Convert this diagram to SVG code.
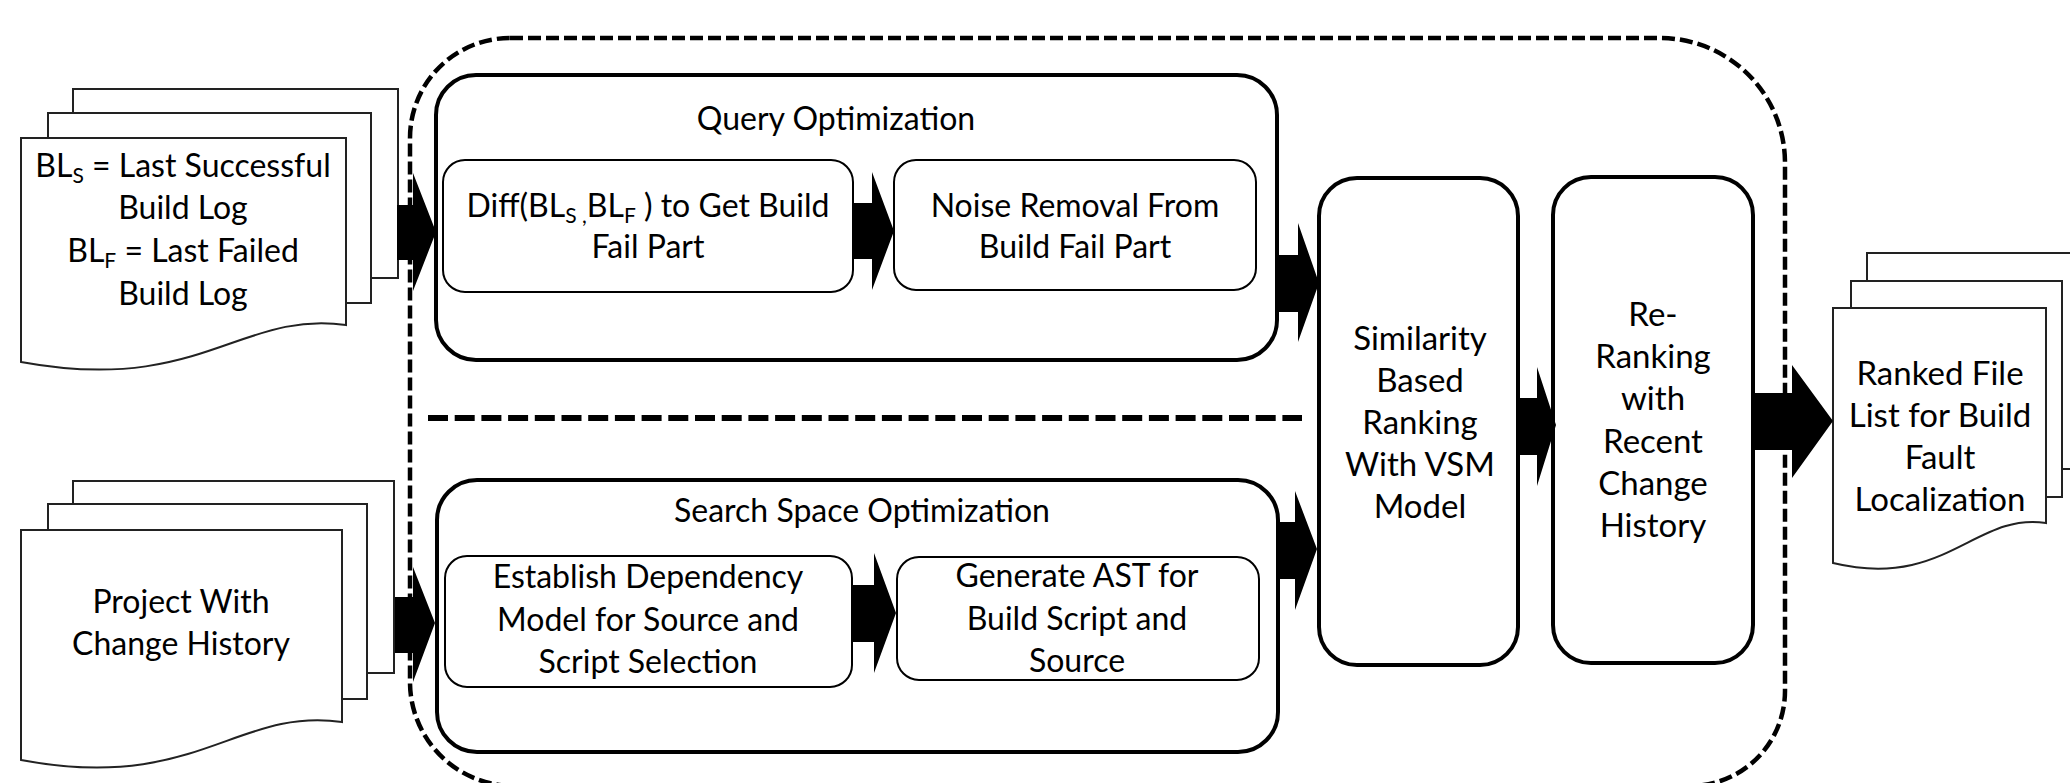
<svg xmlns="http://www.w3.org/2000/svg" width="2070" height="783" viewBox="0 0 2070 783">
<defs>
<style>
.pg{fill:#fff;stroke:#222;stroke-width:2}
.big{fill:#fff;stroke:#000;stroke-width:4}
.inner{fill:#fff;stroke:#000;stroke-width:2}
.t{font-family:Lato,"Open Sans",sans-serif;font-size:32px;fill:#000;text-anchor:middle}
.tl{font-size:33px}
.arrow{fill:#000;stroke:none}
.dash{fill:none;stroke:#000;stroke-width:4.5;stroke-dasharray:13 5}
.sep{fill:none;stroke:#000;stroke-width:6;stroke-dasharray:20 6.7}
</style>
</defs>
<rect width="2070" height="783" fill="#fff"/>

<g id="doc-build-logs">
<rect class="pg" x="73" y="89" width="325" height="189"/>
<rect class="pg" x="48" y="113" width="323" height="190"/>
<path class="pg" d="M21,138 H346 V325 C240,310 200,395 21,362 Z"/>
<text class="t" x="183" y="177">BL<tspan font-size="21" dy="6">S</tspan><tspan dy="-6"> = Last Successful</tspan></text>
<text class="t" x="183" y="219">Build Log</text>
<text class="t" x="183" y="262">BL<tspan font-size="21" dy="6">F</tspan><tspan dy="-6"> = Last Failed</tspan></text>
<text class="t" x="183" y="305">Build Log</text>
</g>

<g id="doc-project">
<rect class="pg" x="73" y="481" width="321" height="192"/>
<rect class="pg" x="48" y="504" width="319" height="195"/>
<path class="pg" d="M21,530 H342 V722 C236,707 196,793 21,760 Z"/>
<text class="t" x="181" y="613">Project With</text>
<text class="t" x="181" y="655">Change History</text>
</g>

<g id="query-optimization">
<rect class="big" x="436" y="75" width="841" height="285" rx="40"/>
<text class="t" x="836" y="130">Query Optimization</text>
</g>
<g id="diff">
<rect class="inner" x="443" y="160" width="410" height="132" rx="22"/>
<text class="t" x="648" y="217">Diff(BL<tspan font-size="21" dy="6">S</tspan><tspan font-size="21"> ,</tspan><tspan dy="-6">BL</tspan><tspan font-size="21" dy="6">F</tspan><tspan dy="-6"> ) to Get Build</tspan></text>
<text class="t" x="648" y="258">Fail Part</text>
</g>
<g id="noise-removal">
<rect class="inner" x="894" y="160" width="362" height="130" rx="22"/>
<text class="t" x="1075" y="217">Noise Removal From</text>
<text class="t" x="1075" y="258">Build Fail Part</text>
</g>

<g id="search-space-optimization">
<rect class="big" x="437" y="480" width="841" height="272" rx="40"/>
<text class="t" x="862" y="522">Search Space Optimization</text>
</g>
<g id="establish-dependency">
<rect class="inner" x="445" y="556" width="407" height="131" rx="22"/>
<text class="t" x="648" y="588">Establish Dependency</text>
<text class="t" x="648" y="631">Model for Source and</text>
<text class="t" x="648" y="673">Script Selection</text>
</g>
<g id="generate-ast">
<rect class="inner" x="897" y="557" width="362" height="123" rx="22"/>
<text class="t" x="1077" y="587">Generate AST  for</text>
<text class="t" x="1077" y="630">Build Script and</text>
<text class="t" x="1077" y="672">Source</text>
</g>

<g id="similarity-ranking">
<rect class="big" x="1319" y="178" width="199" height="487" rx="38"/>
<text class="t tl" x="1420" y="350">Similarity</text>
<text class="t tl" x="1420" y="392">Based</text>
<text class="t tl" x="1420" y="434">Ranking</text>
<text class="t tl" x="1420" y="476">With VSM</text>
<text class="t tl" x="1420" y="518">Model</text>
</g>

<g id="re-ranking">
<rect class="big" x="1553" y="177" width="200" height="486" rx="38"/>
<text class="t tl" x="1653" y="326">Re-</text>
<text class="t tl" x="1653" y="368">Ranking</text>
<text class="t tl" x="1653" y="410">with</text>
<text class="t tl" x="1653" y="453">Recent</text>
<text class="t tl" x="1653" y="495">Change</text>
<text class="t tl" x="1653" y="537">History</text>
</g>

<g id="doc-ranked-files">
<rect class="pg" x="1867" y="253" width="230" height="216"/>
<rect class="pg" x="1851" y="281" width="211" height="216"/>
<path class="pg" d="M1833,308 H2046 V523 C1975,512 1945,590 1833,563 Z"/>
<text class="t tl" x="1940" y="385">Ranked File</text>
<text class="t tl" x="1940" y="427">List for Build</text>
<text class="t tl" x="1940" y="469">Fault</text>
<text class="t tl" x="1940" y="511">Localization</text>
</g>

<g id="connectors">
<polygon class="arrow" points="397,205 413,205 413,173 436,232 413,291 413,260 397,260"/>
<polygon class="arrow" points="395,597 413,597 413,567 435,623 413,682 413,653 395,653"/>
<polygon class="arrow" points="853,203 872,203 872,172 894,231 872,290 872,259 853,259"/>
<polygon class="arrow" points="852,585 874,585 874,553 896,613 874,673 874,642 852,642"/>
<polygon class="arrow" points="1277,255 1298,255 1298,223 1319,283 1298,342 1298,312 1277,312"/>
<polygon class="arrow" points="1278,522 1295,522 1295,491 1317,549 1295,610 1295,579 1278,579"/>
<polygon class="arrow" points="1518,398 1537,398 1537,367 1556,425 1537,486 1537,455 1518,455"/>
<polygon class="arrow" points="1753,393 1792,393 1792,365 1833,421 1792,478 1792,450 1753,450"/>
</g>

<g id="boundary">
<path class="dash" d="M510,38 H1660 A125,125 0 0 1 1785,163 V691 A95,95 0 0 1 1690,786 H514 A104,104 0 0 1 410,682 V138 A100,100 0 0 1 510,38 Z"/>
<line class="sep" x1="428" y1="418" x2="1302" y2="418"/>
</g>
</svg>
